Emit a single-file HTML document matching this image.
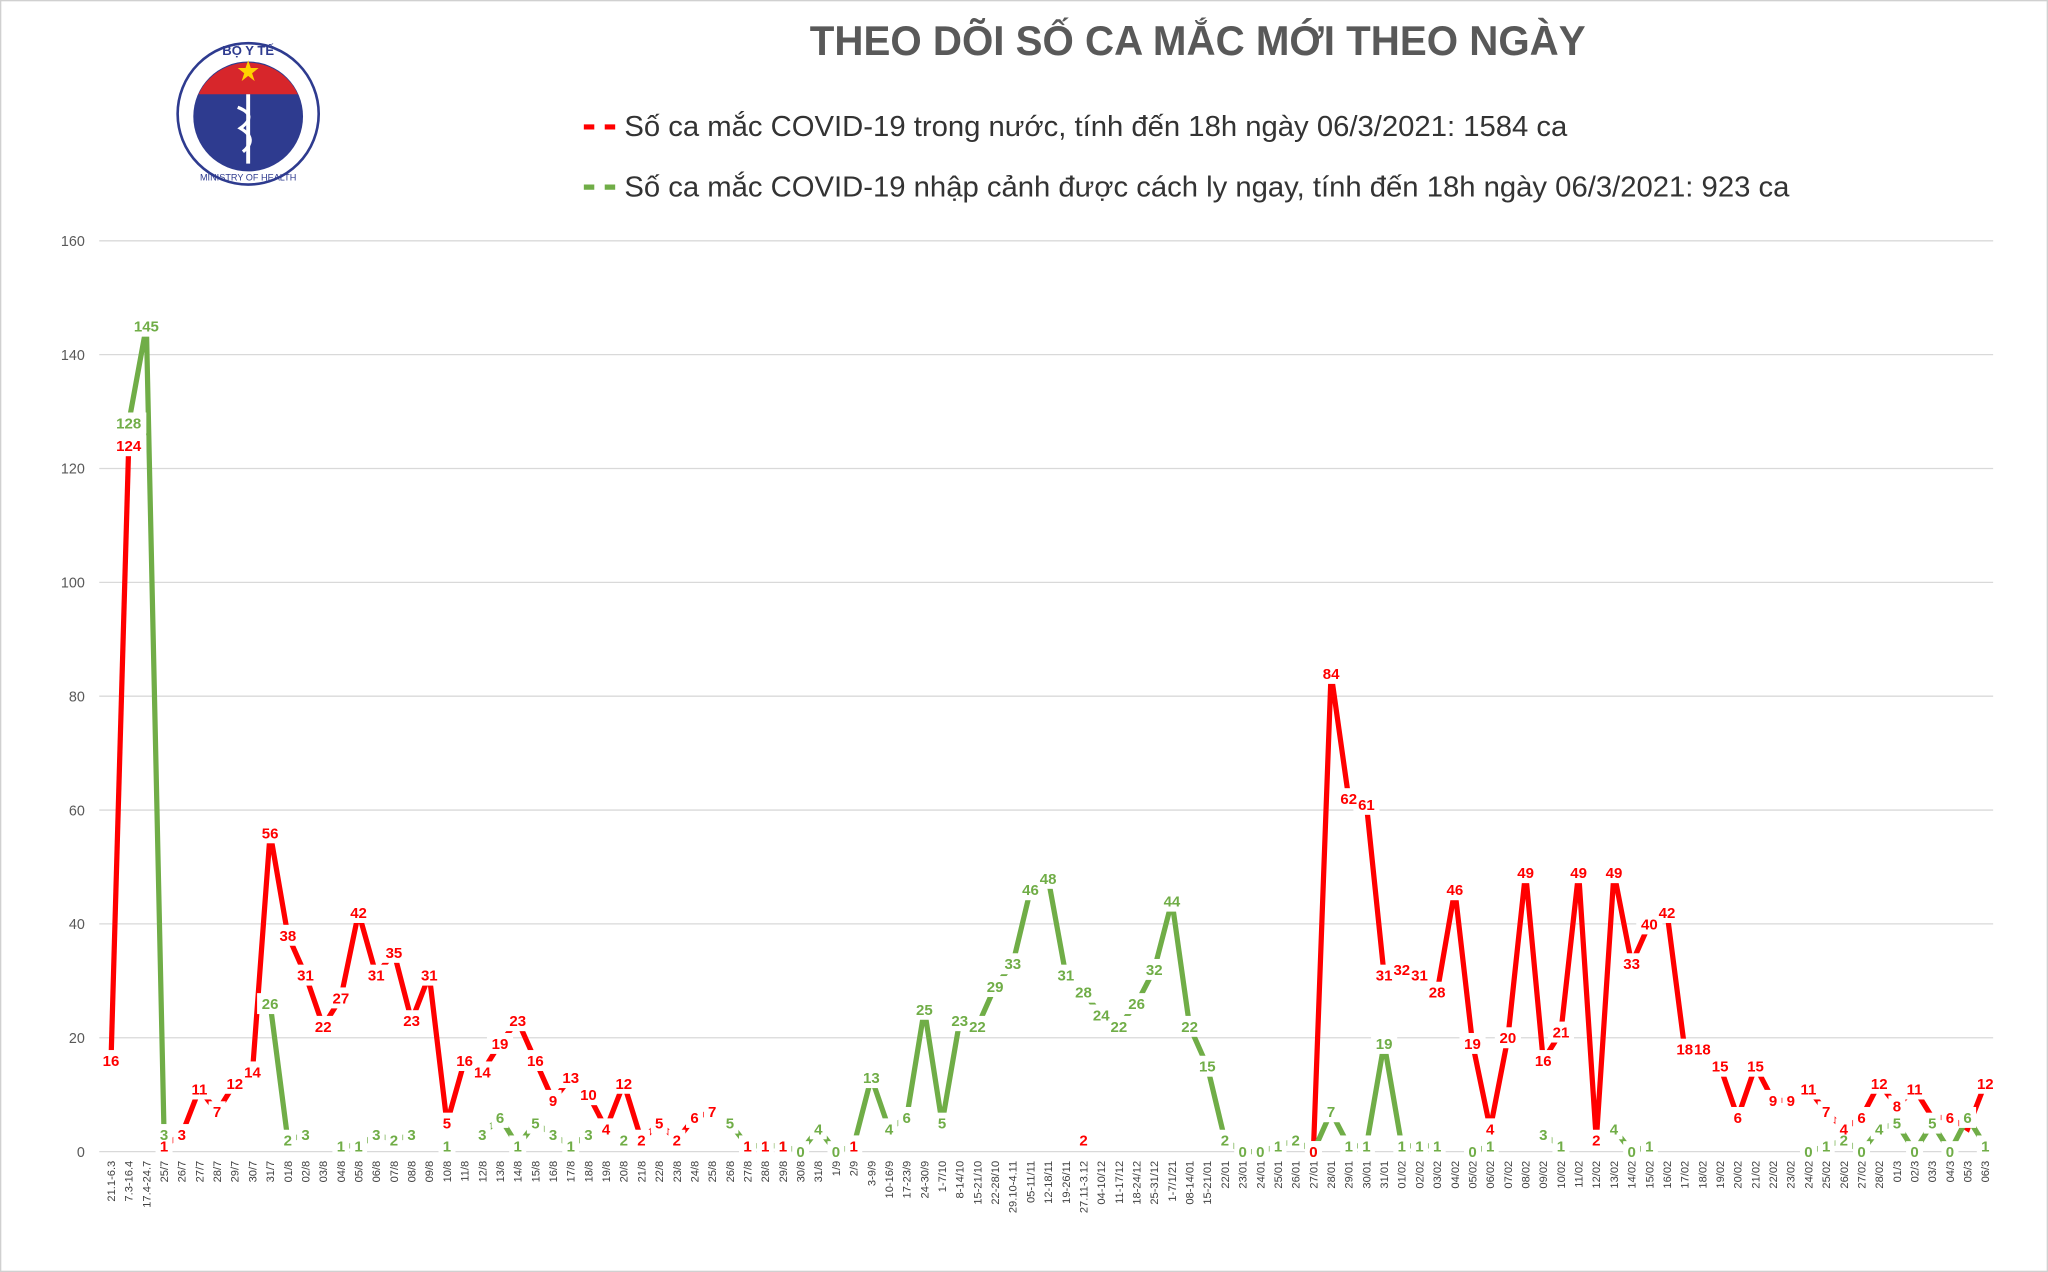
<!DOCTYPE html>
<html><head><meta charset="utf-8">
<style>
html,body{margin:0;padding:0;background:#fff;}
svg{display:block;}
text{font-family:"Liberation Sans",sans-serif;}
</style></head>
<body>
<svg id="c" width="2048" height="1272" viewBox="0 0 1568 972" preserveAspectRatio="none" xmlns="http://www.w3.org/2000/svg">
<rect x="0.5" y="0.5" width="1567" height="971" fill="#fff" stroke="#d0d0d0"/>
<g>
<circle cx="190" cy="87" r="54" fill="#fff" stroke="#2e3b8f" stroke-width="2"/>
<circle cx="190" cy="89" r="42" fill="#2e3b8f"/>
<path d="M152 72 A42 42 0 0 1 228 72 Z" fill="#d7262b"/>
<polygon points="190,46 192,52 198,52 193,56 195,62 190,58 185,62 187,56 182,52 188,52" fill="#ffd200"/>
<line x1="190" y1="72" x2="190" y2="125" stroke="#fff" stroke-width="3"/>
<path d="M182 82 Q198 88 184 98 Q198 106 186 116" fill="none" stroke="#fff" stroke-width="2.5"/>
<text x="190" y="42" font-size="10" fill="#2e3b8f" text-anchor="middle" font-weight="bold">BỘ Y TẾ</text>
<text x="190" y="138" font-size="7" fill="#2e3b8f" text-anchor="middle">MINISTRY OF HEALTH</text>
</g>
<text x="917" y="42" font-size="32" font-weight="bold" fill="#595959" text-anchor="middle" textLength="594" lengthAdjust="spacingAndGlyphs">THEO DÕI SỐ CA MẮC MỚI THEO NGÀY</text>
<line x1="447" y1="97" x2="473" y2="97" stroke="#ff0000" stroke-width="4" stroke-dasharray="8,8"/>
<text x="478" y="104" font-size="22" fill="#333" textLength="722" lengthAdjust="spacingAndGlyphs">Số ca mắc COVID-19 trong nước, tính đến 18h ngày 06/3/2021: 1584 ca</text>
<line x1="447" y1="143" x2="473" y2="143" stroke="#70ad47" stroke-width="4" stroke-dasharray="8,8"/>
<text x="478" y="150" font-size="22" fill="#333" textLength="892" lengthAdjust="spacingAndGlyphs">Số ca mắc COVID-19 nhập cảnh được cách ly ngay, tính đến 18h ngày 06/3/2021: 923 ca</text>
<g id="grid"></g><g id="lines"></g><g id="boxes"></g><g id="labs"></g><g id="xl"></g>
</svg>
<script>
var NS="http://www.w3.org/2000/svg";
function el(t,a,p,txt){var e=document.createElementNS(NS,t);for(var k in a)e.setAttribute(k,a[k]);if(txt!=null)e.textContent=txt;document.getElementById(p).appendChild(e);return e;}
var cats=["21.1-6.3","7.3-16.4","17.4-24.7","25/7","26/7","27/7","28/7","29/7","30/7","31/7"];
for(var d=1;d<=31;d++)cats.push((d<10?"0"+d:""+d)+"/8");
cats=cats.concat(["1/9","2/9","3-9/9","10-16/9","17-23/9","24-30/9","1-7/10","8-14/10","15-21/10","22-28/10","29.10-4.11","05-11/11","12-18/11","19-26/11","27.11-3.12","04-10/12","11-17/12","18-24/12","25-31/12","1-7/1/21","08-14/01","15-21/01"]);
for(var d=22;d<=31;d++)cats.push(d+"/01");
for(var d=1;d<=28;d++)cats.push((d<10?"0"+d:d)+"/02");
for(var d=1;d<=6;d++)cats.push("0"+d+"/3");
var N=cats.length;
function X(i){return 85+i*(1435/(N-1));}
function Y(v){return 880-v*4.35;}
for(var v=0;v<=160;v+=20){el("line",{x1:76,x2:1526,y1:Y(v),y2:Y(v),stroke:"#d9d9d9","stroke-width":1},"grid");
el("text",{x:65,y:Y(v)+4,"font-size":11,fill:"#595959","text-anchor":"end"},"grid",v);}
var r=[[0,16],[1,124],[3,1],[4,3],[5,11],[6,7],[7,12],[8,14],[9,56],[10,38],[11,31],[12,22],[13,27],[14,42],[15,31],[16,35],[17,23],[18,31],[19,5],[20,16],[21,14],[22,19],[23,23],[24,16],[25,9],[26,13],[27,10],[28,4],[29,12],[30,2],[31,5],[32,2],[33,6],[34,7],[36,1],[37,1],[38,1],[42,1],[55,2],[68,0],[69,84],[70,62],[71,61],[72,31],[73,32],[74,31],[75,28],[76,46],[77,19],[78,4],[79,20],[80,49],[81,16],[82,21],[83,49],[84,2],[85,49],[86,33],[87,40],[88,42],[89,18],[90,18],[91,15],[92,6],[93,15],[94,9],[95,9],[96,11],[97,7],[98,4],[99,6],[100,12],[101,8],[102,11],[103,6,1],[104,6],[105,4,1],[106,12]];
var g=[[1,128],[2,145],[3,3],[9,26],[10,2],[11,3],[13,1],[14,1],[15,3],[16,2],[17,3],[19,1],[21,3],[22,6],[23,1],[24,5],[25,3],[26,1],[27,3],[29,2],[35,5],[36,1],[37,1],[38,1],[39,0],[40,4],[41,0],[42,1],[43,13],[44,4],[45,6],[46,25],[47,5],[48,23],[49,22],[50,29],[51,33],[52,46],[53,48],[54,31],[55,28],[56,24],[57,22],[58,26],[59,32],[60,44],[61,22],[62,15],[63,2],[64,0],[65,0],[66,1],[67,2],[68,0],[69,7],[70,1],[71,1],[72,19],[73,1],[74,1],[75,1],[77,0],[78,1],[81,3],[82,1],[85,4],[86,0],[87,1],[96,0],[97,1],[98,2],[99,0],[100,4],[101,5],[102,0],[103,5],[104,0],[105,6],[106,1]];
function draw(data,col){
 var seg=[],prev=-2;
 data.forEach(function(p){if(p[0]!==prev+1&&seg.length){poly(seg);seg=[];}seg.push(X(p[0])+","+Y(p[1]));prev=p[0];});
 if(seg.length)poly(seg);
 function poly(s){if(s.length>1)el("polyline",{points:s.join(" "),fill:"none",stroke:col,"stroke-width":4,"stroke-linejoin":"miter"},"lines");}
}
draw(r,"#ff0000");draw(g,"#70ad47");
function labs(data,col){data.forEach(function(p){if(p[2])return;var s=""+p[1];var w=s.length*7+6;var x=X(p[0]),y=Y(p[1]);
 el("rect",{x:x-w/2,y:y-8,width:w,height:16,fill:"#fff"},"boxes");
 el("text",{x:x,y:y+4.2,"font-size":11.5,"font-weight":"bold",fill:col,"text-anchor":"middle"},"labs",s);});}
labs(g,"#70ad47");labs(r,"#ff0000");
for(var i=0;i<N;i++){var x=X(i);el("text",{x:0,y:0,"font-size":8.5,fill:"#404040","text-anchor":"end",transform:"translate("+(x+3)+",887) rotate(-90)"},"xl",cats[i]);}
</script>
</body></html>
